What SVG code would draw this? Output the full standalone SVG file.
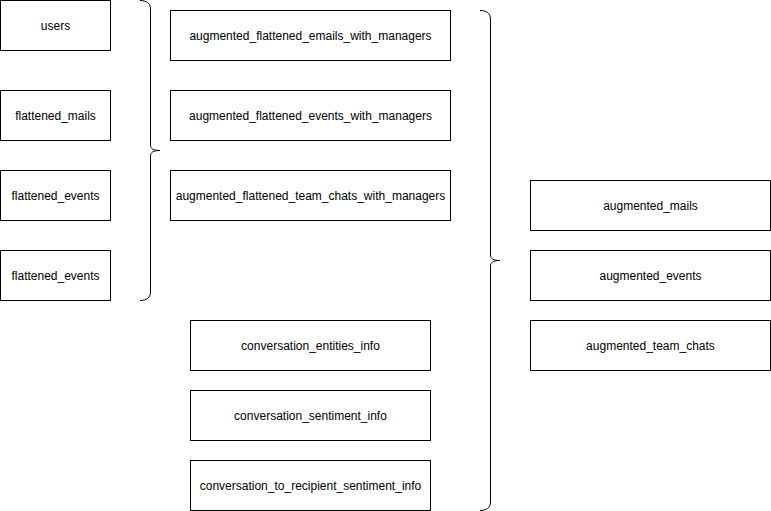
<svg xmlns="http://www.w3.org/2000/svg" width="771" height="511" viewBox="0 0 771 511">
  <style>
    .box { fill: #ffffff; stroke: #000000; stroke-width: 1; }
    .brace { fill: none; stroke: #000000; stroke-width: 1; }
    .label { font-family: "Liberation Sans", Arial, Helvetica, sans-serif; font-size: 12px; fill: #000000; text-anchor: middle; dominant-baseline: central; }
  </style>
  <rect width="771" height="511" fill="#ffffff"/>

  <g id="connectors">
    <path class="brace" d="M140,0.5 C146,0.5 150.5,3 150.5,9 L150.5,145 C150.5,148.5 153,150.5 160,150.5 C153,150.5 150.5,152.5 150.5,156 L150.5,292 C150.5,298 146,300.5 140,300.5"/>
    <path class="brace" d="M480,10.5 C486,10.5 490.5,13 490.5,19 L490.5,255 C490.5,258.5 493,260.5 500,260.5 C493,260.5 490.5,262.5 490.5,266 L490.5,502 C490.5,508 486,510.5 480,510.5"/>
  </g>

  <g id="users"><rect class="box" x="0.5" y="0.5" width="110" height="50"/><text class="label" x="55.5" y="25.5">users</text></g>
  <g id="flattened_mails"><rect class="box" x="0.5" y="90.5" width="110" height="50"/><text class="label" x="55.5" y="115.5">flattened_mails</text></g>
  <g id="flattened_events_1"><rect class="box" x="0.5" y="170.5" width="110" height="50"/><text class="label" x="55.5" y="195.5">flattened_events</text></g>
  <g id="flattened_events_2"><rect class="box" x="0.5" y="250.5" width="110" height="50"/><text class="label" x="55.5" y="275.5">flattened_events</text></g>

  <g id="augmented_flattened_emails_with_managers"><rect class="box" x="170.5" y="10.5" width="280" height="50"/><text class="label" x="310.5" y="35.5">augmented_flattened_emails_with_managers</text></g>
  <g id="augmented_flattened_events_with_managers"><rect class="box" x="170.5" y="90.5" width="280" height="50"/><text class="label" x="310.5" y="115.5">augmented_flattened_events_with_managers</text></g>
  <g id="augmented_flattened_team_chats_with_managers"><rect class="box" x="170.5" y="170.5" width="280" height="50"/><text class="label" x="310.5" y="195.5">augmented_flattened_team_chats_with_managers</text></g>

  <g id="conversation_entities_info"><rect class="box" x="190.5" y="320.5" width="240" height="50"/><text class="label" x="310.5" y="345.5">conversation_entities_info</text></g>
  <g id="conversation_sentiment_info"><rect class="box" x="190.5" y="390.5" width="240" height="50"/><text class="label" x="310.5" y="415.5">conversation_sentiment_info</text></g>
  <g id="conversation_to_recipient_sentiment_info"><rect class="box" x="190.5" y="460.5" width="240" height="50"/><text class="label" x="310.5" y="485.5">conversation_to_recipient_sentiment_info</text></g>

  <g id="augmented_mails"><rect class="box" x="530.5" y="180.5" width="240" height="50"/><text class="label" x="650.5" y="205.5">augmented_mails</text></g>
  <g id="augmented_events"><rect class="box" x="530.5" y="250.5" width="240" height="50"/><text class="label" x="650.5" y="275.5">augmented_events</text></g>
  <g id="augmented_team_chats"><rect class="box" x="530.5" y="320.5" width="240" height="50"/><text class="label" x="650.5" y="345.5">augmented_team_chats</text></g>
</svg>
